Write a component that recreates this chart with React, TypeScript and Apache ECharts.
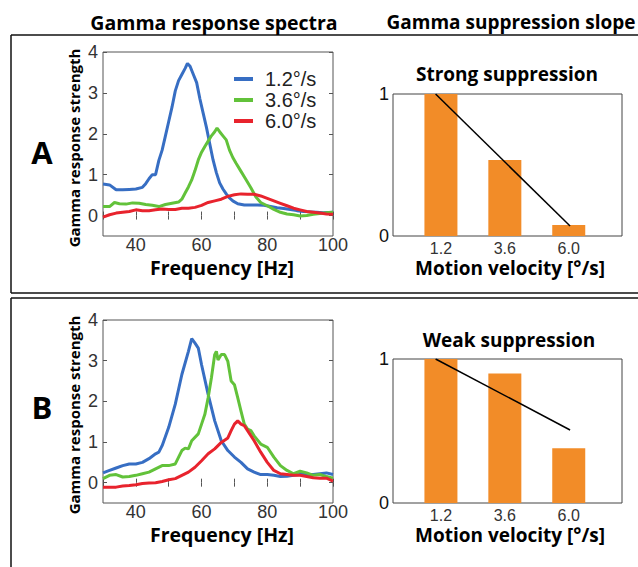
import React, { useEffect, useRef } from "react";
import * as echarts from "echarts";

// ---------- Data ----------
const velocityNames = ["1.2°/s", "3.6°/s", "6.0°/s"];
const velocities = [1.2, 3.6, 6.0];

const freqBlueA = [30, 32, 34, 36, 38, 40, 42, 43, 44, 45, 46, 47, 48, 49, 50, 51, 52, 53, 54, 55, 55.7, 56.5, 57.5, 58.5, 59.5, 60.5, 61.5, 62.5, 63.5, 64.5, 65.5, 66.5, 67.5, 68.5, 69.5, 71, 73, 75, 77, 79, 81, 83, 85, 87, 89, 91, 93, 95, 97, 100];
const blueA = [0.77, 0.75, 0.63, 0.63, 0.64, 0.65, 0.69, 0.78, 0.9, 1.0, 1.0, 1.35, 1.6, 1.95, 2.3, 2.65, 3.05, 3.3, 3.45, 3.6, 3.72, 3.65, 3.45, 3.25, 2.85, 2.5, 2.15, 1.75, 1.36, 1.05, 0.8, 0.65, 0.53, 0.43, 0.36, 0.29, 0.26, 0.26, 0.26, 0.25, 0.22, 0.19, 0.17, 0.15, 0.12, 0.1, 0.09, 0.08, 0.07, 0.08];

const freqGreenA = [30, 32, 33.5, 35, 37, 39, 41, 43, 45, 47, 49, 51, 53, 54, 55, 56, 57, 58, 59, 60, 61, 62, 63, 64, 64.7, 65.5, 66.5, 67.5, 68.5, 69.5, 70.5, 72, 73.5, 75, 76.5, 78, 80, 82, 84, 86, 88, 90, 92, 94, 96, 98, 100];
const greenA = [0.22, 0.22, 0.32, 0.29, 0.28, 0.31, 0.3, 0.27, 0.25, 0.22, 0.27, 0.3, 0.33, 0.4, 0.55, 0.7, 0.87, 1.1, 1.36, 1.55, 1.69, 1.82, 1.95, 2.05, 2.14, 2.05, 1.95, 1.85, 1.6, 1.42, 1.28, 1.08, 0.88, 0.68, 0.46, 0.32, 0.24, 0.15, 0.08, 0.04, 0.02, -0.01, 0.0, 0.03, 0.05, 0.07, 0.08];

const freqRedA = [30, 32, 34, 36, 38, 40, 42, 44, 46, 48, 50, 52, 54, 56, 58, 60, 62, 64, 66, 68, 70, 72, 74, 76, 78, 80, 82, 84, 86, 88, 90, 92, 94, 96, 98, 100];
const redA = [-0.04, 0.02, 0.06, 0.08, 0.1, 0.14, 0.12, 0.12, 0.14, 0.16, 0.15, 0.15, 0.18, 0.18, 0.2, 0.25, 0.32, 0.36, 0.4, 0.47, 0.51, 0.53, 0.52, 0.52, 0.48, 0.42, 0.36, 0.3, 0.24, 0.18, 0.14, 0.1, 0.08, 0.06, 0.04, 0.03];

const freqBlueB = [30, 32, 34, 36, 38, 40, 42, 44, 46, 47, 48, 50, 52, 54, 56, 57, 58, 59, 60, 62, 64, 66, 68, 70, 72, 74, 76, 78, 80, 82, 84, 86, 88, 90, 92, 94, 96, 98, 100];
const blueB = [0.24, 0.3, 0.36, 0.42, 0.46, 0.46, 0.5, 0.59, 0.71, 0.75, 0.91, 1.36, 1.93, 2.66, 3.23, 3.54, 3.43, 3.31, 2.9, 2.17, 1.52, 1.03, 0.79, 0.63, 0.5, 0.34, 0.26, 0.2, 0.2, 0.18, 0.15, 0.16, 0.18, 0.2, 0.2, 0.2, 0.22, 0.24, 0.2];

const freqGreenB = [30, 32, 34, 36, 38, 40, 42, 44, 46, 48, 50, 52, 54, 55, 56, 57, 59, 60, 61, 62, 63, 64, 64.5, 65, 66, 67, 68, 69, 70, 71, 72, 73, 74, 75, 76, 78, 80, 82, 84, 86, 88, 90, 92, 94, 96, 98, 100];
const greenB = [0.1, 0.18, 0.2, 0.14, 0.15, 0.18, 0.22, 0.26, 0.34, 0.42, 0.42, 0.46, 0.79, 0.85, 0.83, 1.03, 1.2, 1.44, 1.68, 2.09, 2.58, 3.15, 3.23, 3.02, 3.15, 3.15, 2.98, 2.5, 2.41, 2.09, 1.76, 1.44, 1.32, 1.28, 1.15, 0.95, 0.87, 0.63, 0.42, 0.3, 0.22, 0.28, 0.24, 0.18, 0.2, 0.15, 0.11];

const freqRedB = [30, 32, 34, 36, 38, 40, 42, 44, 46, 48, 50, 52, 54, 56, 58, 60, 62, 64, 66, 68, 69, 70, 71, 72, 73, 74, 76, 78, 80, 82, 84, 86, 88, 90, 92, 94, 96, 98, 100];
const redB = [-0.11, -0.11, -0.11, -0.08, -0.07, -0.05, -0.02, -0.01, 0.0, 0.03, 0.07, 0.1, 0.18, 0.26, 0.38, 0.54, 0.71, 0.83, 0.99, 1.1, 1.28, 1.44, 1.52, 1.44, 1.4, 1.28, 1.03, 0.75, 0.5, 0.3, 0.22, 0.2, 0.18, 0.18, 0.15, 0.12, 0.11, 0.11, 0.04];

const barsA = [1.0, 0.535, 0.077];
const barsB = [1.0, 0.9, 0.38];
const fitXA = [1.0, 6.05];
const fitYA = [1.0, 0.07];
const fitXB = [1.0, 6.05];
const fitYB = [1.0, 0.507];

const spectraYTicks = [0, 1, 2, 3, 4];

// ---------- Styles ----------
const COLORS = ["#376ec3", "#62c23a", "#e8232d"];
const ORANGE = "#f28c28";
const BOLD = "'Open Sans', 'DejaVu Sans', sans-serif";
const PLAIN = "'Liberation Sans', Arial, sans-serif";
const TICK_COLOR = "#333";

const zip = (xs: number[], ys: number[]) => xs.map((x, i) => [x, ys[i]]);

function spectraAxes(gridIndex: number) {
  const x = [
    {
      type: "value", gridIndex, min: 30, max: 100, interval: 10, position: "bottom",
      axisLine: { show: false },
      axisTick: { show: true, inside: true, length: 4, lineStyle: { color: "#555" } },
      axisLabel: {
        color: TICK_COLOR, fontFamily: PLAIN, fontSize: 18, margin: 0,
        showMinLabel: true, showMaxLabel: true,
        formatter: (v: number) => (v % 20 === 0 ? String(v) : ""),
      },
      splitLine: { show: false },
    },
    {
      type: "value", gridIndex, min: 30, max: 100, interval: 10, position: "top",
      axisLine: { show: false },
      axisTick: { show: true, inside: true, length: 4, lineStyle: { color: "#555" } },
      axisLabel: { show: false },
      splitLine: { show: false },
    },
  ];
  const y = [
    {
      type: "value", gridIndex, min: -0.5, max: 4, position: "left",
      axisLine: { show: false },
      axisTick: { show: true, inside: true, length: 4, customValues: spectraYTicks, lineStyle: { color: "#555" } },
      axisLabel: { color: TICK_COLOR, fontFamily: PLAIN, fontSize: 18, margin: 5, customValues: spectraYTicks },
      splitLine: { show: false },
    },
    {
      type: "value", gridIndex, min: -0.5, max: 4, position: "right",
      axisLine: { show: false },
      axisTick: { show: true, inside: true, length: 4, customValues: spectraYTicks, lineStyle: { color: "#555" } },
      axisLabel: { show: false },
      splitLine: { show: false },
    },
  ];
  return { x, y };
}

function barAxes(gridIndex: number) {
  return {
    x: {
      type: "value", gridIndex, min: -0.6, max: 8,
      axisLine: { show: false },
      axisTick: { show: false },
      axisLabel: {
        color: TICK_COLOR, fontFamily: PLAIN, fontSize: 16, margin: 4, lineHeight: 16,
        customValues: velocities,
        formatter: (v: number) => v.toFixed(1),
      },
      splitLine: { show: false },
    },
    y: {
      type: "value", gridIndex, min: 0, max: 1, interval: 1,
      axisLine: { show: false },
      axisTick: { show: false },
      axisLabel: { color: "#111", fontFamily: PLAIN, fontSize: 18, margin: 4 },
      splitLine: { show: false },
    },
  };
}

export default function App() {
  const ref = useRef<HTMLDivElement>(null);
  useEffect(() => {
    if (!ref.current) return;
    const chart = echarts.init(ref.current, null, { renderer: "svg" });

    const sA = spectraAxes(0);
    const bA = barAxes(1);
    const sB = spectraAxes(2);
    const bB = barAxes(3);

    const xAxis = [sA.x[0], sA.x[1], bA.x, sB.x[0], sB.x[1], bB.x];
    const yAxis = [sA.y[0], sA.y[1], bA.y, sB.y[0], sB.y[1], bB.y];

    const lineSeries = (name: string, color: string, data: number[][], xi: number, yi: number) => ({
      type: "line", name, data, xAxisIndex: xi, yAxisIndex: yi,
      showSymbol: false, symbol: "none", smooth: false,
      lineStyle: { color, width: 3 }, itemStyle: { color },
      clip: true, z: 3,
    });

    const barSeries = (data: number[], xi: number, yi: number) => ({
      type: "bar", data: zip(velocities, data), xAxisIndex: xi, yAxisIndex: yi,
      barWidth: 33, itemStyle: { color: ORANGE }, silent: true,
    });

    const fitSeries = (xs: number[], ys: number[], xi: number, yi: number) => ({
      type: "line", data: zip(xs, ys), xAxisIndex: xi, yAxisIndex: yi,
      showSymbol: false, symbol: "none", lineStyle: { color: "#000", width: 1.5 }, z: 5, silent: true,
    });

    const titleText = (text: string, x: number, y: number, size: number) => ({
      type: "text", x, y,
      style: { text, fill: "#000", font: `700 ${size}px ${BOLD}`, align: "center", verticalAlign: "middle", lineHeight: size },
    });

    const option: any = {
      animation: false,
      grid: [
        { left: 103, top: 52, width: 230, height: 184, show: true, borderColor: "#555", borderWidth: 1, backgroundColor: "transparent" },
        { left: 393, top: 94, width: 229, height: 142, show: true, borderColor: "#444", borderWidth: 1, backgroundColor: "transparent" },
        { left: 103, top: 320, width: 230, height: 183, show: true, borderColor: "#555", borderWidth: 1, backgroundColor: "transparent" },
        { left: 393, top: 359, width: 229, height: 144, show: true, borderColor: "#444", borderWidth: 1, backgroundColor: "transparent" },
      ],
      xAxis,
      yAxis,
      legend: {
        data: velocityNames,
        orient: "vertical",
        left: 229,
        top: 64,
        itemWidth: 19,
        itemHeight: 4,
        itemGap: 1,
        icon: "rect",
        selectedMode: false,
        textStyle: { fontFamily: PLAIN, fontSize: 20, color: "#222", lineHeight: 19, padding: [0, 0, 0, 7] },
      },
      series: [
        lineSeries(velocityNames[0], COLORS[0], zip(freqBlueA, blueA), 0, 0),
        lineSeries(velocityNames[1], COLORS[1], zip(freqGreenA, greenA), 0, 0),
        lineSeries(velocityNames[2], COLORS[2], zip(freqRedA, redA), 0, 0),
        barSeries(barsA, 2, 2),
        fitSeries(fitXA, fitYA, 2, 2),
        lineSeries(velocityNames[0], COLORS[0], zip(freqBlueB, blueB), 3, 3),
        lineSeries(velocityNames[1], COLORS[1], zip(freqGreenB, greenB), 3, 3),
        lineSeries(velocityNames[2], COLORS[2], zip(freqRedB, redB), 3, 3),
        barSeries(barsB, 5, 5),
        fitSeries(fitXB, fitYB, 5, 5),
      ],
      graphic: [
        // panel frames
        { type: "line", shape: { x1: 11, y1: 35, x2: 638, y2: 35 }, style: { stroke: "#111", lineWidth: 1.5 } },
        { type: "line", shape: { x1: 11, y1: 35, x2: 11, y2: 293 }, style: { stroke: "#111", lineWidth: 1.5 } },
        { type: "line", shape: { x1: 11, y1: 293, x2: 638, y2: 293 }, style: { stroke: "#111", lineWidth: 1.5 } },
        { type: "line", shape: { x1: 11, y1: 298, x2: 638, y2: 298 }, style: { stroke: "#111", lineWidth: 1.5 } },
        { type: "line", shape: { x1: 11, y1: 298, x2: 11, y2: 567 }, style: { stroke: "#111", lineWidth: 1.5 } },
        // headers
        titleText("Gamma response spectra", 214, 22, 19.5),
        titleText("Gamma suppression slope", 511, 22, 19),
        // panel letters
        titleText("A", 42, 152, 31),
        titleText("B", 42, 407, 31),
        // y titles
        {
          type: "text", x: 74, y: 148, rotation: Math.PI / 2,
          style: { text: "Gamma response strength", fill: "#000", font: `700 15px ${BOLD}`, align: "center", verticalAlign: "middle" },
        },
        {
          type: "text", x: 74, y: 415, rotation: Math.PI / 2,
          style: { text: "Gamma response strength", fill: "#000", font: `700 15px ${BOLD}`, align: "center", verticalAlign: "middle" },
        },
        // x titles
        titleText("Frequency [Hz]", 222, 267, 19.5),
        titleText("Frequency [Hz]", 222, 534, 19.5),
        titleText("Motion velocity [°/s]", 510, 268, 19),
        titleText("Motion velocity [°/s]", 510, 535, 19),
        // subplot titles
        titleText("Strong suppression", 507, 74, 19),
        titleText("Weak suppression", 509, 340, 19),
      ],
    };

    chart.setOption(option);
    return () => chart.dispose();
  }, []);

  return (
    <div
      ref={ref}
      style={{ position: "fixed", left: 0, top: 0, width: 638, height: 567, background: "#fff" }}
    />
  );
}
